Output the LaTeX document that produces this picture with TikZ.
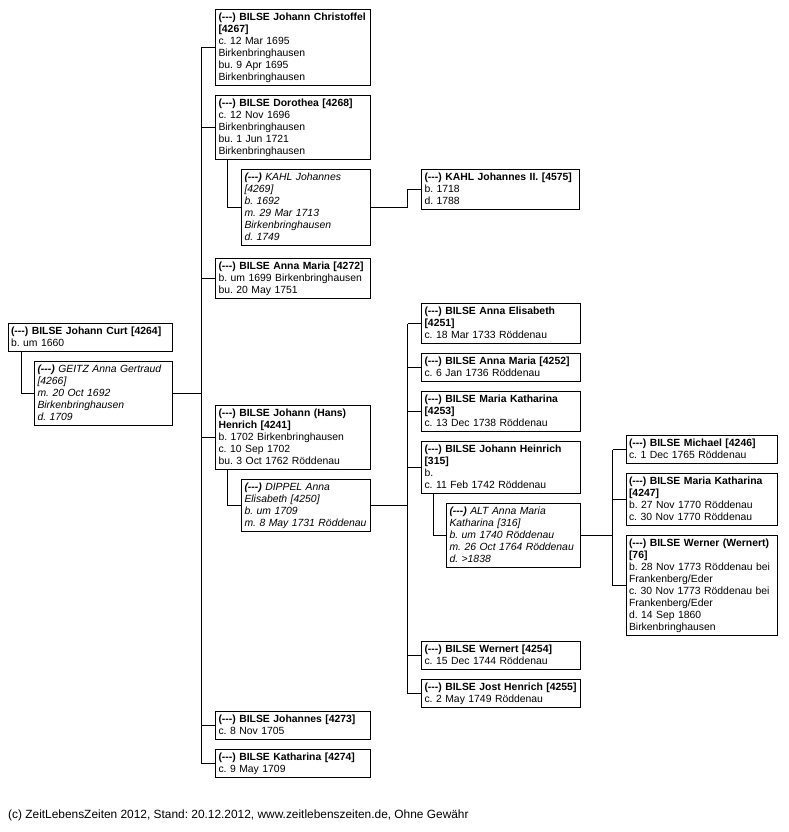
\documentclass[tikz,border=0pt]{standalone}
\usepackage{fontspec}
\setmainfont{Liberation Sans}
\newcommand\pl[1]{\mbox{\rule[-2.6pt]{0pt}{12pt}#1}}
\newcommand\dsh{(-\kern0pt-\kern0pt-)}
\begin{document}
\frenchspacing
\begin{tikzpicture}[x=1pt,y=-1pt,
  pbox/.style={draw, line width=0.8pt, anchor=north west, outer sep=0pt, inner xsep=3pt, inner ysep=2pt, align=left, font=\fontsize{10.4}{12}\selectfont\frenchspacing},
  sp/.style={font=\fontsize{10.4}{12}\selectfont\frenchspacing\itshape},
  wA/.style={text width=149pt},
  wB/.style={text width=123pt},
  wC/.style={text width=153pt},
  wD/.style={text width=145pt},
  conn/.style={line width=0.8pt}]
\useasboundingbox (0,0) rectangle (788,832);

% generation 1
\node[pbox,text width=158.5pt] (curt) at (8,323.5) {\pl{\textbf{\dsh{} BILSE Johann Curt [4264]}}\\\pl{b. um 1660}};
\node[pbox,sp,text width=132pt] (geitz) at (34.5,361.5) {\pl{\textbf{\dsh} GEITZ Anna Gertraud}\\\pl{[4266]}\\\pl{m. 20 Oct 1692}\\\pl{Birkenbringhausen}\\\pl{d. 1709}};

% generation 2
\node[pbox,wA] (christoffel) at (215.5,9.5) {\pl{\textbf{\dsh{} BILSE Johann Christoffel}}\\\pl{\textbf{[4267]}}\\\pl{c. 12 Mar 1695}\\\pl{Birkenbringhausen}\\\pl{bu. 9 Apr 1695}\\\pl{Birkenbringhausen}};
\node[pbox,wA] (dorothea) at (215.5,95.5) {\pl{\textbf{\dsh{} BILSE Dorothea [4268]}}\\\pl{c. 12 Nov 1696}\\\pl{Birkenbringhausen}\\\pl{bu. 1 Jun 1721}\\\pl{Birkenbringhausen}};
\node[pbox,sp,wB] (kahl) at (241.5,169.5) {\pl{\textbf{\dsh} KAHL Johannes}\\\pl{[4269]}\\\pl{b. 1692}\\\pl{m. 29 Mar 1713}\\\pl{Birkenbringhausen}\\\pl{d. 1749}};
\node[pbox,wA] (annamaria) at (215.5,258.5) {\pl{\textbf{\dsh{} BILSE Anna Maria [4272]}}\\\pl{b. um 1699 Birkenbringhausen}\\\pl{bu. 20 May 1751}};
\node[pbox,wA] (henrich) at (215.5,405.5) {\pl{\textbf{\dsh{} BILSE Johann (Hans)}}\\\pl{\textbf{Henrich [4241]}}\\\pl{b. 1702 Birkenbringhausen}\\\pl{c. 10 Sep 1702}\\\pl{bu. 3 Oct 1762 Röddenau}};
\node[pbox,sp,wB] (dippel) at (241.5,479.5) {\pl{\textbf{\dsh} DIPPEL Anna}\\\pl{Elisabeth [4250]}\\\pl{b. um 1709}\\\pl{m. 8 May 1731 Röddenau}};
\node[pbox,wA] (johannes) at (215.5,711.5) {\pl{\textbf{\dsh{} BILSE Johannes [4273]}}\\\pl{c. 8 Nov 1705}};
\node[pbox,wA] (katharina) at (215.5,749.5) {\pl{\textbf{\dsh{} BILSE Katharina [4274]}}\\\pl{c. 9 May 1709}};

% generation 3
\node[pbox,text width=152pt] (kahlII) at (421.5,169) {\pl{\textbf{\dsh{} KAHL Johannes II. [4575]}}\\\pl{b. 1718}\\\pl{d. 1788}};
\node[pbox,wC] (annaelisabeth) at (421.5,303.5) {\pl{\textbf{\dsh{} BILSE Anna Elisabeth}}\\\pl{\textbf{[4251]}}\\\pl{c. 18 Mar 1733 Röddenau}};
\node[pbox,wC] (annamaria2) at (421.5,353.5) {\pl{\textbf{\dsh{} BILSE Anna Maria [4252]}}\\\pl{c. 6 Jan 1736 Röddenau}};
\node[pbox,wC] (mariakath) at (421.5,391.5) {\pl{\textbf{\dsh{} BILSE Maria Katharina}}\\\pl{\textbf{[4253]}}\\\pl{c. 13 Dec 1738 Röddenau}};
\node[pbox,wC] (johannheinrich) at (421.5,441.5) {\pl{\textbf{\dsh{} BILSE Johann Heinrich}}\\\pl{\textbf{[315]}}\\\pl{b.}\\\pl{c. 11 Feb 1742 Röddenau}};
\node[pbox,sp,text width=128pt] (alt) at (446.5,503.5) {\pl{\textbf{\dsh} ALT Anna Maria}\\\pl{Katharina [316]}\\\pl{b. um 1740 Röddenau}\\\pl{m. 26 Oct 1764 Röddenau}\\\pl{d. >1838}};
\node[pbox,wC] (wernert) at (421.5,641.5) {\pl{\textbf{\dsh{} BILSE Wernert [4254]}}\\\pl{c. 15 Dec 1744 Röddenau}};
\node[pbox,wC] (jost) at (421.5,679.5) {\pl{\textbf{\dsh{} BILSE Jost Henrich [4255]}}\\\pl{c. 2 May 1749 Röddenau}};

% generation 4
\node[pbox,wD] (michael) at (626,435.5) {\pl{\textbf{\dsh{} BILSE Michael [4246]}}\\\pl{c. 1 Dec 1765 Röddenau}};
\node[pbox,wD] (mariakath2) at (626,473.5) {\pl{\textbf{\dsh{} BILSE Maria Katharina}}\\\pl{\textbf{[4247]}}\\\pl{b. 27 Nov 1770 Röddenau}\\\pl{c. 30 Nov 1770 Röddenau}};
\node[pbox,wD] (werner) at (626,535.5) {\pl{\textbf{\dsh{} BILSE Werner (Wernert)}}\\\pl{\textbf{[76]}}\\\pl{b. 28 Nov 1773 Röddenau bei}\\\pl{Frankenberg/Eder}\\\pl{c. 30 Nov 1773 Röddenau bei}\\\pl{Frankenberg/Eder}\\\pl{d. 14 Sep 1860}\\\pl{Birkenbringhausen}};

% trunks
\coordinate (t1) at (201.5,0);
\coordinate (t2) at (407.5,0);
\coordinate (t3) at (612.5,0);

\draw[conn] ([xshift=13.5pt]curt.south west) |- (geitz.west);
\draw[conn] (geitz.east) -- (geitz.east -| t1);
\draw[conn] (christoffel.west -| t1) -- (katharina.west -| t1);
\foreach \n in {christoffel,dorothea,annamaria,henrich,johannes,katharina}
  \draw[conn] (\n.west -| t1) -- (\n.west);

\draw[conn] ([xshift=12pt]dorothea.south west) |- (kahl.west);
\draw[conn] (kahl.east) -- (kahl.east -| t2) |- (kahlII.west);

\draw[conn] ([xshift=12pt]henrich.south west) |- (dippel.west);
\draw[conn] (dippel.east) -- (dippel.east -| t2);
\draw[conn] (annaelisabeth.west -| t2) -- (jost.west -| t2);
\foreach \n in {annaelisabeth,annamaria2,mariakath,johannheinrich,wernert,jost}
  \draw[conn] (\n.west -| t2) -- (\n.west);

\draw[conn] ([xshift=11.5pt]johannheinrich.south west) |- (alt.west);
\draw[conn] (alt.east) -- (alt.east -| t3);
\draw[conn] (michael.west -| t3) -- (werner.west -| t3);
\foreach \n in {michael,mariakath2,werner}
  \draw[conn] (\n.west -| t3) -- (\n.west);

\node[anchor=base west, inner sep=0pt, font=\fontsize{11.9}{14}\selectfont\frenchspacing] (footer) at (8,818) {(c) ZeitLebensZeiten 2012, Stand: 20.12.2012, www.zeitlebenszeiten.de, Ohne Gewähr};
\end{tikzpicture}
\end{document}
